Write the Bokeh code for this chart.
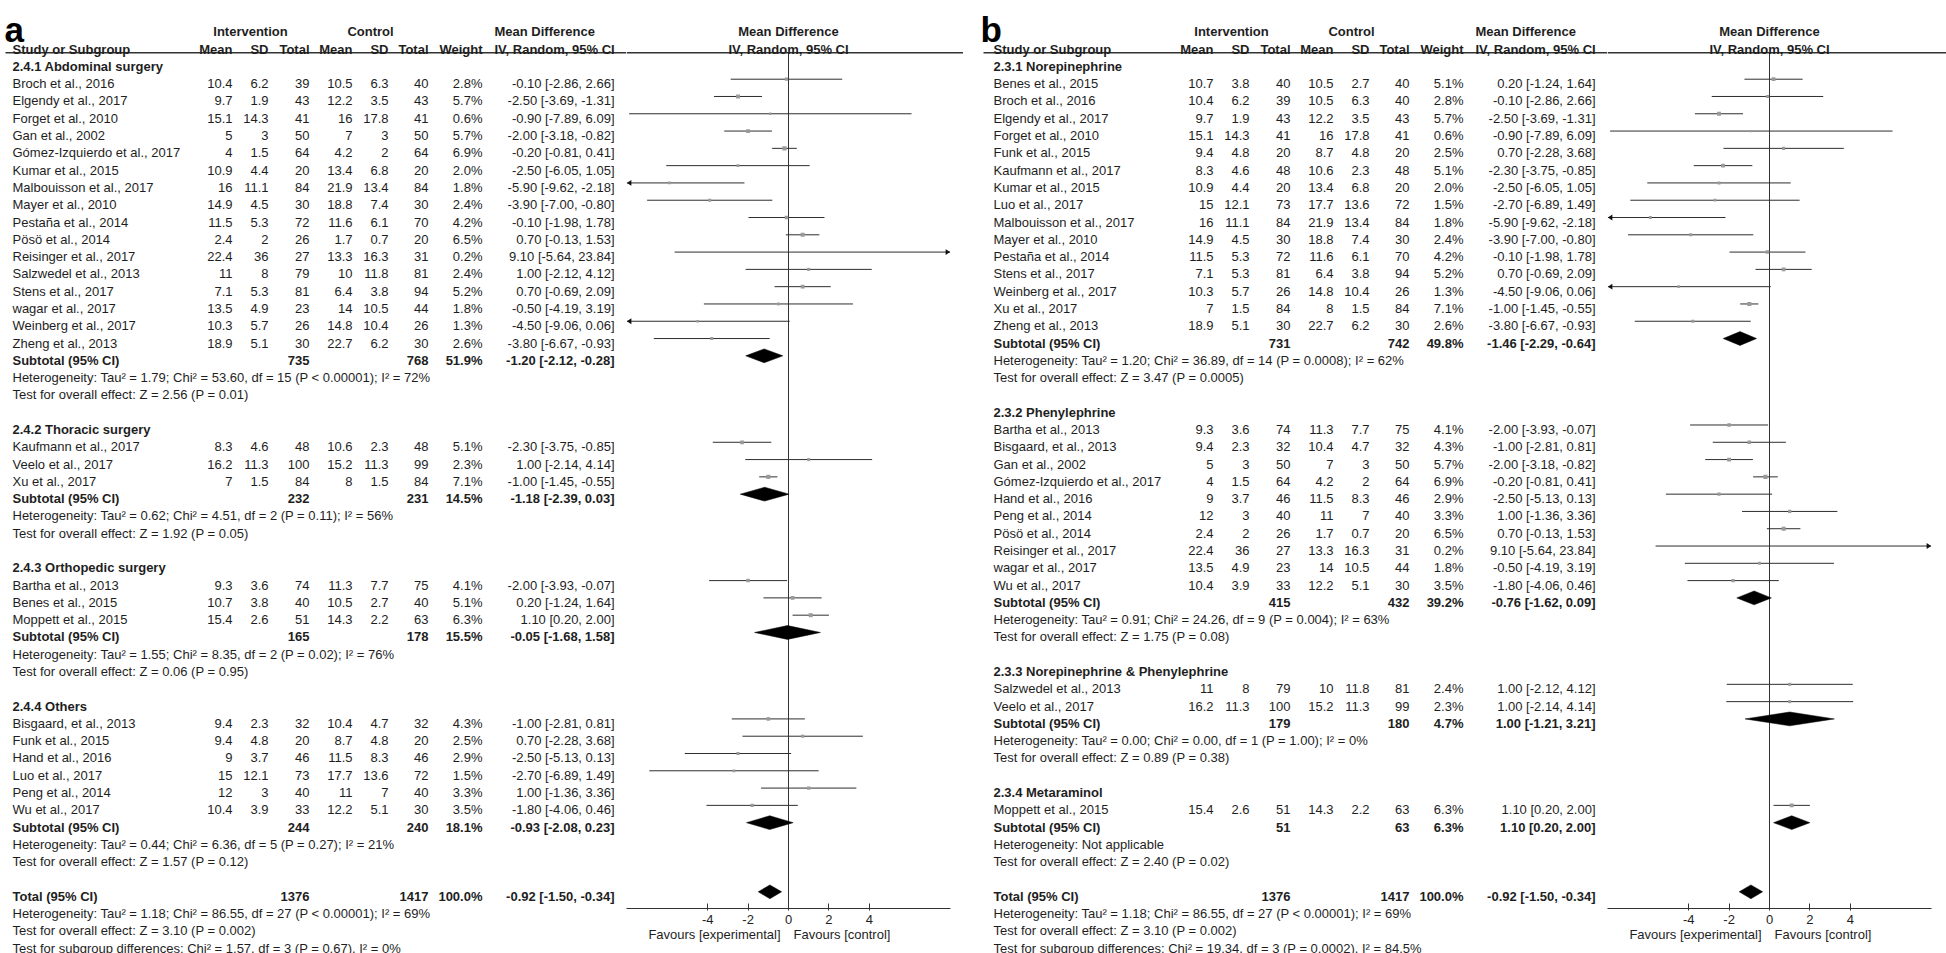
import math
from bokeh.plotting import figure
from bokeh.layouts import row
from bokeh.models import (Range1d, ColumnDataSource, LinearAxis, FixedTicker,
                          CustomJSTickFormatter, AllLabels)
from bokeh.core.properties import value
from bokeh.embed import file_html
from bokeh.resources import INLINE

# ---------------------------------------------------------------- data
STUDIES = ["Broch et al., 2016", "Elgendy et al., 2017", "Forget et al., 2010", "Gan et al., 2002",
           "Gómez-Izquierdo et al., 2017", "Kumar et al., 2015", "Malbouisson et al., 2017",
           "Mayer et al., 2010", "Pestaña et al., 2014", "Pösö et al., 2014", "Reisinger et al., 2017",
           "Salzwedel et al., 2013", "Stens et al., 2017", "wagar et al., 2017", "Weinberg et al., 2017",
           "Zheng et al., 2013", "Kaufmann et al., 2017", "Veelo et al., 2017", "Xu et al., 2017",
           "Bartha et al., 2013", "Benes et al., 2015", "Moppett et al., 2015", "Bisgaard, et al., 2013",
           "Funk et al., 2015", "Hand et al., 2016", "Luo et al., 2017", "Peng et al., 2014", "Wu et al., 2017"]
INT_MEAN = [10.4, 9.7, 15.1, 5, 4, 10.9, 16, 14.9, 11.5, 2.4, 22.4, 11, 7.1, 13.5, 10.3, 18.9,
            8.3, 16.2, 7, 9.3, 10.7, 15.4, 9.4, 9.4, 9, 15, 12, 10.4]
INT_SD = [6.2, 1.9, 14.3, 3, 1.5, 4.4, 11.1, 4.5, 5.3, 2, 36, 8, 5.3, 4.9, 5.7, 5.1,
          4.6, 11.3, 1.5, 3.6, 3.8, 2.6, 2.3, 4.8, 3.7, 12.1, 3, 3.9]
INT_N = [39, 43, 41, 50, 64, 20, 84, 30, 72, 26, 27, 79, 81, 23, 26, 30,
         48, 100, 84, 74, 40, 51, 32, 20, 46, 73, 40, 33]
CTL_MEAN = [10.5, 12.2, 16, 7, 4.2, 13.4, 21.9, 18.8, 11.6, 1.7, 13.3, 10, 6.4, 14, 14.8, 22.7,
            10.6, 15.2, 8, 11.3, 10.5, 14.3, 10.4, 8.7, 11.5, 17.7, 11, 12.2]
CTL_SD = [6.3, 3.5, 17.8, 3, 2, 6.8, 13.4, 7.4, 6.1, 0.7, 16.3, 11.8, 3.8, 10.5, 10.4, 6.2,
          2.3, 11.3, 1.5, 7.7, 2.7, 2.2, 4.7, 4.8, 8.3, 13.6, 7, 5.1]
CTL_N = [40, 43, 41, 50, 64, 20, 84, 30, 70, 20, 31, 81, 94, 44, 26, 30,
         48, 99, 84, 75, 40, 63, 32, 20, 46, 72, 40, 30]
WEIGHT = [2.8, 5.7, 0.6, 5.7, 6.9, 2.0, 1.8, 2.4, 4.2, 6.5, 0.2, 2.4, 5.2, 1.8, 1.3, 2.6,
          5.1, 2.3, 7.1, 4.1, 5.1, 6.3, 4.3, 2.5, 2.9, 1.5, 3.3, 3.5]
MD = [-0.10, -2.50, -0.90, -2.00, -0.20, -2.50, -5.90, -3.90, -0.10, 0.70, 9.10, 1.00, 0.70, -0.50,
      -4.50, -3.80, -2.30, 1.00, -1.00, -2.00, 0.20, 1.10, -1.00, 0.70, -2.50, -2.70, 1.00, -1.80]
CI_LO = [-2.86, -3.69, -7.89, -3.18, -0.81, -6.05, -9.62, -7.00, -1.98, -0.13, -5.64, -2.12, -0.69, -4.19,
         -9.06, -6.67, -3.75, -2.14, -1.45, -3.93, -1.24, 0.20, -2.81, -2.28, -5.13, -6.89, -1.36, -4.06]
CI_HI = [2.66, -1.31, 6.09, -0.82, 0.41, 1.05, -2.18, -0.80, 1.78, 1.53, 23.84, 4.12, 2.09, 3.19,
         0.06, -0.93, -0.85, 4.14, -0.55, -0.07, 1.64, 2.00, 0.81, 3.68, 0.13, 1.49, 3.36, 0.46]

# panel a: by type of surgery
A_GROUPS = ["2.4.1 Abdominal surgery", "2.4.2 Thoracic surgery", "2.4.3 Orthopedic surgery", "2.4.4 Others"]
A_MEMBERS = [
    ["Broch et al., 2016", "Elgendy et al., 2017", "Forget et al., 2010", "Gan et al., 2002",
     "Gómez-Izquierdo et al., 2017", "Kumar et al., 2015", "Malbouisson et al., 2017", "Mayer et al., 2010",
     "Pestaña et al., 2014", "Pösö et al., 2014", "Reisinger et al., 2017", "Salzwedel et al., 2013",
     "Stens et al., 2017", "wagar et al., 2017", "Weinberg et al., 2017", "Zheng et al., 2013"],
    ["Kaufmann et al., 2017", "Veelo et al., 2017", "Xu et al., 2017"],
    ["Bartha et al., 2013", "Benes et al., 2015", "Moppett et al., 2015"],
    ["Bisgaard, et al., 2013", "Funk et al., 2015", "Hand et al., 2016", "Luo et al., 2017",
     "Peng et al., 2014", "Wu et al., 2017"],
]
A_SUB_INT_N = [735, 232, 165, 244]
A_SUB_CTL_N = [768, 231, 178, 240]
A_SUB_WEIGHT = [51.9, 14.5, 15.5, 18.1]
A_SUB_MD = [-1.20, -1.18, -0.05, -0.93]
A_SUB_LO = [-2.12, -2.39, -1.68, -2.08]
A_SUB_HI = [-0.28, 0.03, 1.58, 0.23]
A_HET = ["Heterogeneity: Tau² = 1.79; Chi² = 53.60, df = 15 (P < 0.00001); I² = 72%",
         "Heterogeneity: Tau² = 0.62; Chi² = 4.51, df = 2 (P = 0.11); I² = 56%",
         "Heterogeneity: Tau² = 1.55; Chi² = 8.35, df = 2 (P = 0.02); I² = 76%",
         "Heterogeneity: Tau² = 0.44; Chi² = 6.36, df = 5 (P = 0.27); I² = 21%"]
A_TEST = ["Test for overall effect: Z = 2.56 (P = 0.01)",
          "Test for overall effect: Z = 1.92 (P = 0.05)",
          "Test for overall effect: Z = 0.06 (P = 0.95)",
          "Test for overall effect: Z = 1.57 (P = 0.12)"]
A_SUBGROUP_DIFF = "Test for subgroup differences: Chi² = 1.57, df = 3 (P = 0.67), I² = 0%"

# panel b: by vasopressor
B_GROUPS = ["2.3.1 Norepinephrine", "2.3.2 Phenylephrine", "2.3.3 Norepinephrine & Phenylephrine",
            "2.3.4 Metaraminol"]
B_MEMBERS = [
    ["Benes et al., 2015", "Broch et al., 2016", "Elgendy et al., 2017", "Forget et al., 2010",
     "Funk et al., 2015", "Kaufmann et al., 2017", "Kumar et al., 2015", "Luo et al., 2017",
     "Malbouisson et al., 2017", "Mayer et al., 2010", "Pestaña et al., 2014", "Stens et al., 2017",
     "Weinberg et al., 2017", "Xu et al., 2017", "Zheng et al., 2013"],
    ["Bartha et al., 2013", "Bisgaard, et al., 2013", "Gan et al., 2002", "Gómez-Izquierdo et al., 2017",
     "Hand et al., 2016", "Peng et al., 2014", "Pösö et al., 2014", "Reisinger et al., 2017",
     "wagar et al., 2017", "Wu et al., 2017"],
    ["Salzwedel et al., 2013", "Veelo et al., 2017"],
    ["Moppett et al., 2015"],
]
B_SUB_INT_N = [731, 415, 179, 51]
B_SUB_CTL_N = [742, 432, 180, 63]
B_SUB_WEIGHT = [49.8, 39.2, 4.7, 6.3]
B_SUB_MD = [-1.46, -0.76, 1.00, 1.10]
B_SUB_LO = [-2.29, -1.62, -1.21, 0.20]
B_SUB_HI = [-0.64, 0.09, 3.21, 2.00]
B_HET = ["Heterogeneity: Tau² = 1.20; Chi² = 36.89, df = 14 (P = 0.0008); I² = 62%",
         "Heterogeneity: Tau² = 0.91; Chi² = 24.26, df = 9 (P = 0.004); I² = 63%",
         "Heterogeneity: Tau² = 0.00; Chi² = 0.00, df = 1 (P = 1.00); I² = 0%",
         "Heterogeneity: Not applicable"]
B_TEST = ["Test for overall effect: Z = 3.47 (P = 0.0005)",
          "Test for overall effect: Z = 1.75 (P = 0.08)",
          "Test for overall effect: Z = 0.89 (P = 0.38)",
          "Test for overall effect: Z = 2.40 (P = 0.02)"]
B_SUBGROUP_DIFF = "Test for subgroup differences: Chi² = 19.34, df = 3 (P = 0.0002), I² = 84.5%"

TOTAL_INT_N = 1376
TOTAL_CTL_N = 1417
TOTAL_WEIGHT = 100.0
TOTAL_MD = -0.92
TOTAL_LO = -1.50
TOTAL_HI = -0.34
TOTAL_HET = "Heterogeneity: Tau² = 1.18; Chi² = 86.55, df = 27 (P < 0.00001); I² = 69%"
TOTAL_TEST = "Test for overall effect: Z = 3.10 (P = 0.002)"

AXIS_TICKS = [-4, -2, 0, 2, 4]
AXIS_LIMIT = 8
FAVOURS_LABELS = ["Favours [experimental]", "Favours [control]"]

# ---------------------------------------------------------------- layout / style
FONT = "Liberation Sans"
FS = "13px"
TXT = "#1e1e1e"
LINE = "#333333"
ROW0_PX = 61.4        # screen y of the first row's marks
ROW_PX = 17.29        # row pitch
TEXT_DY = 0.26        # text sits slightly below the marks (rows)
TOP_PX, TABLE_BOTTOM_PX, AXIS_PX = 0, 953, 908
PX_PER_UNIT = 20.2
PANEL_B_SHIFT = 981

def row_of(px):
    return (px - ROW0_PX) / ROW_PX

Y_TOP = row_of(TOP_PX)
Y_TABLE_BOTTOM = row_of(TABLE_BOTTOM_PX)
Y_AXIS = row_of(AXIS_PX)
Y_RULE = row_of(52.3)

# column anchors (panel-relative screen x)
STUDY_X = 12
INT_MEAN_X, INT_SD_X, INT_N_X = 232, 268, 309
CTL_MEAN_X, CTL_SD_X, CTL_N_X = 352, 388, 428
WEIGHT_X, CI_X, CI_HEAD_X = 482, 614, 494
INTERVENTION_X, CONTROL_X = 250, 370


def g(v):
    return f"{v:g}"


def ci(md, lo, hi):
    return f"{md:.2f} [{lo:.2f}, {hi:.2f}]"


def base_fig(fw, fh, xr, yr):
    p = figure(frame_width=fw, frame_height=fh, x_range=xr, y_range=yr,
               output_backend="svg", toolbar_location=None, title=None,
               x_axis_location=None, y_axis_location=None, min_border=0,
               outline_line_color=None, background_fill_color="white",
               border_fill_color="white")
    p.xgrid.visible = False
    p.ygrid.visible = False
    return p


def build_panel(letter, letter_x, groups, members, s_int, s_ctl, s_w, s_md, s_lo, s_hi,
                het, test, diff, table_left, table_right, rule_left,
                f_left_px, f_right_px, zero_px):
    T = {k: dict(x=[], y=[], text=[]) for k in ("nl", "nr", "bl", "br", "bc")}

    def put(kind, x, r, s):
        T[kind]["x"].append(x)
        T[kind]["y"].append(r + TEXT_DY)
        T[kind]["text"].append(s)

    FH = dict(x=[], y=[], text=[])
    st = dict(y=[], lo=[], hi=[])
    sq = dict(y=[], md=[], size=[])
    arr = dict(xs=[], ys=[])
    dia = dict(xs=[], ys=[])

    # headers
    put("bc", INTERVENTION_X, -2, "Intervention")
    put("bc", CONTROL_X, -2, "Control")
    put("bl", CI_HEAD_X, -2, "Mean Difference")
    put("bl", STUDY_X, -1, "Study or Subgroup")
    for x, s in [(INT_MEAN_X, "Mean"), (INT_SD_X, "SD"), (INT_N_X, "Total"), (CTL_MEAN_X, "Mean"),
                 (CTL_SD_X, "SD"), (CTL_N_X, "Total"), (WEIGHT_X, "Weight")]:
        put("br", x, -1, s)
    put("bl", CI_HEAD_X, -1, "IV, Random, 95% CI")
    FH["x"] += [0, 0]
    FH["y"] += [-2 + TEXT_DY, -1 + TEXT_DY]
    FH["text"] += ["Mean Difference", "IV, Random, 95% CI"]

    def add_diamond(r, md, lo, hi):
        dia["xs"].append([lo, md, hi, md])
        dia["ys"].append([r, r - 0.4, r, r + 0.4])

    r = 0
    for gi, gname in enumerate(groups):
        put("bl", STUDY_X, r, gname)
        r += 1
        for name in members[gi]:
            i = STUDIES.index(name)
            put("nl", STUDY_X, r, name)
            put("nr", INT_MEAN_X, r, g(INT_MEAN[i]))
            put("nr", INT_SD_X, r, g(INT_SD[i]))
            put("nr", INT_N_X, r, g(INT_N[i]))
            put("nr", CTL_MEAN_X, r, g(CTL_MEAN[i]))
            put("nr", CTL_SD_X, r, g(CTL_SD[i]))
            put("nr", CTL_N_X, r, g(CTL_N[i]))
            put("nr", WEIGHT_X, r, f"{WEIGHT[i]:.1f}%")
            put("nr", CI_X, r, ci(MD[i], CI_LO[i], CI_HI[i]))
            st["y"].append(r)
            st["lo"].append(max(CI_LO[i], -AXIS_LIMIT))
            st["hi"].append(min(CI_HI[i], AXIS_LIMIT))
            if -AXIS_LIMIT <= MD[i] <= AXIS_LIMIT:
                sq["y"].append(r); sq["md"].append(MD[i])
                sq["size"].append(1.6 + 0.95 * math.sqrt(WEIGHT[i]))
            if CI_LO[i] < -AXIS_LIMIT:
                arr["xs"].append([-AXIS_LIMIT, -AXIS_LIMIT + 0.22, -AXIS_LIMIT + 0.22])
                arr["ys"].append([r, r - 0.17, r + 0.17])
            if CI_HI[i] > AXIS_LIMIT:
                arr["xs"].append([AXIS_LIMIT, AXIS_LIMIT - 0.22, AXIS_LIMIT - 0.22])
                arr["ys"].append([r, r - 0.17, r + 0.17])
            r += 1
        put("bl", STUDY_X, r, "Subtotal (95% CI)")
        put("br", INT_N_X, r, g(s_int[gi]))
        put("br", CTL_N_X, r, g(s_ctl[gi]))
        put("br", WEIGHT_X, r, f"{s_w[gi]:.1f}%")
        put("br", CI_X, r, ci(s_md[gi], s_lo[gi], s_hi[gi]))
        add_diamond(r, s_md[gi], s_lo[gi], s_hi[gi])
        r += 1
        put("nl", STUDY_X, r, het[gi]); r += 1
        put("nl", STUDY_X, r, test[gi]); r += 1
        r += 1
    put("bl", STUDY_X, r, "Total (95% CI)")
    put("br", INT_N_X, r, g(TOTAL_INT_N))
    put("br", CTL_N_X, r, g(TOTAL_CTL_N))
    put("br", WEIGHT_X, r, f"{TOTAL_WEIGHT:.1f}%")
    put("br", CI_X, r, ci(TOTAL_MD, TOTAL_LO, TOTAL_HI))
    add_diamond(r, TOTAL_MD, TOTAL_LO, TOTAL_HI)
    r += 1
    put("nl", STUDY_X, r, TOTAL_HET); r += 1
    put("nl", STUDY_X, r, TOTAL_TEST); r += 1
    put("nl", STUDY_X, r, diff)

    # ---------------- table figure
    tp = base_fig(int(table_right - table_left), TABLE_BOTTOM_PX - TOP_PX,
                  Range1d(table_left, table_right), Range1d(Y_TABLE_BOTTOM, Y_TOP))
    tp.segment(x0=[rule_left], y0=[Y_RULE], x1=[table_right], y1=[Y_RULE],
               line_color=LINE, line_width=1.4)
    styles = {"nl": ("normal", "left"), "nr": ("normal", "right"), "bl": ("bold", "left"),
              "br": ("bold", "right"), "bc": ("bold", "center")}
    for k, (fs, al) in styles.items():
        tp.text(x="x", y="y", text="text", source=ColumnDataSource(T[k]),
                text_font=value(FONT), text_font_size=FS, text_font_style=fs,
                text_align=al, text_baseline="middle", text_color=TXT)
    tp.text(x=[letter_x], y=[row_of(29)], text=[letter], text_font=value(FONT),
            text_font_size="35px", text_font_style="bold", text_align="left",
            text_baseline="alphabetic", text_color="black")

    # ---------------- forest figure
    fx0 = (f_left_px - zero_px) / PX_PER_UNIT
    fx1 = (f_right_px - zero_px) / PX_PER_UNIT
    fp = base_fig(int(f_right_px - f_left_px), AXIS_PX - TOP_PX,
                  Range1d(fx0, fx1), Range1d(Y_AXIS, Y_TOP))
    fp.segment(x0=[fx0], y0=[Y_RULE], x1=[fx1], y1=[Y_RULE], line_color=LINE, line_width=1.4)
    fp.segment(x0=[0], y0=[Y_RULE], x1=[0], y1=[Y_AXIS], line_color=LINE, line_width=1)
    fp.segment(x0="lo", y0="y", x1="hi", y1="y", source=ColumnDataSource(st),
               line_color="#2e2e2e", line_width=1)
    fp.scatter(x="md", y="y", size="size", marker="square", source=ColumnDataSource(sq),
               fill_color="#9a9a9a", line_color=None)
    fp.patches(xs="xs", ys="ys", source=ColumnDataSource(arr), fill_color="#111111", line_color=None)
    fp.patches(xs="xs", ys="ys", source=ColumnDataSource(dia), fill_color="black", line_color="black",
               line_width=0.5)
    fp.text(x="x", y="y", text="text", source=ColumnDataSource(FH), text_font=value(FONT),
            text_font_size=FS, text_font_style="bold", text_align="center",
            text_baseline="middle", text_color=TXT)

    ax = LinearAxis(ticker=FixedTicker(ticks=AXIS_TICKS),
                    formatter=CustomJSTickFormatter(code="return String(tick)"),
                    bounds=(-AXIS_LIMIT, AXIS_LIMIT), major_label_policy=AllLabels(),
                    axis_line_color=LINE, axis_line_width=1, major_tick_line_color=LINE,
                    major_tick_in=5, major_tick_out=2, minor_tick_line_color=None,
                    major_label_standoff=4, major_label_text_font=FONT,
                    major_label_text_font_size=FS, major_label_text_color=TXT)
    fav = LinearAxis(ticker=FixedTicker(ticks=[(714 - 788) / PX_PER_UNIT, (841.5 - 788) / PX_PER_UNIT]),
                     formatter=CustomJSTickFormatter(args=dict(labels=FAVOURS_LABELS),
                                                     code="return tick < 0 ? labels[0] : labels[1]"),
                     major_label_policy=AllLabels(), axis_line_color=None,
                     major_tick_line_color=None, minor_tick_line_color=None,
                     major_tick_in=0, major_tick_out=0, major_label_standoff=0,
                     major_label_text_font=FONT, major_label_text_font_size=FS,
                     major_label_text_color=TXT)
    fp.add_layout(ax, "below")
    fp.add_layout(fav, "below")
    return tp, fp


ta, fa = build_panel("a", 4, A_GROUPS, A_MEMBERS, A_SUB_INT_N, A_SUB_CTL_N, A_SUB_WEIGHT,
                     A_SUB_MD, A_SUB_LO, A_SUB_HI, A_HET, A_TEST, A_SUBGROUP_DIFF,
                     0, 626, 5, 626, 963, 788)
tb, fb = build_panel("b", -1, B_GROUPS, B_MEMBERS, B_SUB_INT_N, B_SUB_CTL_N, B_SUB_WEIGHT,
                     B_SUB_MD, B_SUB_LO, B_SUB_HI, B_HET, B_TEST, B_SUBGROUP_DIFF,
                     963 - PANEL_B_SHIFT, 626, 2, 626 + PANEL_B_SHIFT, 1946, 788 + PANEL_B_SHIFT)

layout = row(ta, fa, tb, fb, spacing=0)
open("out.html", "w").write(file_html(layout, INLINE))
